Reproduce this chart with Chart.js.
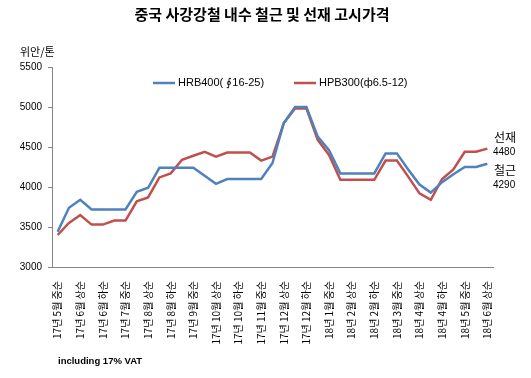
<!DOCTYPE html>
<html>
<head>
<meta charset="utf-8">
<script src="https://cdn.jsdelivr.net/npm/chart.js@4/dist/chart.umd.min.js"></script>
<style>
    body { margin: 0; background: #fff; }
</style>
</head>
<body>
<canvas id="myChart" width="531" height="378"></canvas>
<script>
    // 순별 (10일 단위) 카테고리
    const periods = [
        '17년 5월 중순', '17년 5월 하순', '17년 6월 상순', '17년 6월 중순', '17년 6월 하순',
        '17년 7월 상순', '17년 7월 중순', '17년 7월 하순', '17년 8월 상순', '17년 8월 중순',
        '17년 8월 하순', '17년 9월 상순', '17년 9월 중순', '17년 9월 하순', '17년 10월 상순',
        '17년 10월 중순', '17년 10월 하순', '17년 11월 상순', '17년 11월 중순', '17년 11월 하순',
        '17년 12월 상순', '17년 12월 중순', '17년 12월 하순', '18년 1월 상순', '18년 1월 중순',
        '18년 1월 하순', '18년 2월 상순', '18년 2월 중순', '18년 2월 하순', '18년 3월 상순',
        '18년 3월 중순', '18년 3월 하순', '18년 4월 상순', '18년 4월 중순', '18년 4월 하순',
        '18년 5월 상순', '18년 5월 중순', '18년 5월 하순', '18년 6월 상순'
    ];

    // 철근 HRB400
    const rebarHRB400 = [
        3440, 3740, 3840, 3720, 3720, 3720, 3720, 3940, 3990, 4240,
        4240, 4240, 4240, 4140, 4040, 4100, 4100, 4100, 4100, 4300,
        4800, 5000, 5000, 4630, 4460, 4170, 4170, 4170, 4170, 4420,
        4420, 4220, 4030, 3930, 4060, 4160, 4250, 4250, 4290
    ];

    // 선재 HPB300
    const wireHPB300 = [
        3400, 3550, 3650, 3530, 3530, 3580, 3580, 3820, 3870, 4120,
        4170, 4340, 4390, 4440, 4380, 4430, 4430, 4430, 4330, 4380,
        4800, 4980, 4980, 4590, 4400, 4090, 4090, 4090, 4090, 4330,
        4330, 4130, 3920, 3840, 4100, 4220, 4440, 4440, 4480
    ];

    const seriesNames = ['HRB400( ∮16-25)', 'HPB300(ф6.5-12)'];
    const seriesColors = ['#4F81BD', '#C0504D'];
    const yTicks = [3000, 3500, 4000, 4500, 5000, 5500];
//////////////////////////////////////////////////////////////////////////////////////////////////////////////////

    const KR = "'Noto Sans CJK KR', sans-serif";

    const textPlugin = {
        id: 'textPlugin',
        afterDraw(chart) {
            const c = chart.ctx;
            const y = chart.scales.y;
            const ds = chart.data.datasets;
            c.save();
            c.fillStyle = '#000';
            c.textBaseline = 'middle';

            // 제목
            c.textAlign = 'center';
            c.font = 'bold 15px ' + KR;
            c.fillText('중국 사강강철 내수 철근 및 선재 고시가격', 262, 14);

            // 단위
            c.textAlign = 'left';
            c.font = '11px ' + KR;
            c.fillText('위안/톤', 20, 52);

            // 범례
            const legendX = [153, 294];
            c.font = "11px 'Liberation Sans', sans-serif";
            ds.forEach(function(d, i) {
                c.strokeStyle = d.borderColor;
                c.lineWidth = 2.5;
                c.beginPath();
                c.moveTo(legendX[i], 83);
                c.lineTo(legendX[i] + 22, 83);
                c.stroke();
                c.fillText(d.label, legendX[i] + 25, 83);
            });

            // 마지막 값 표시
            const lastW = wireHPB300[wireHPB300.length - 1];
            const lastR = rebarHRB400[rebarHRB400.length - 1];
            const yw = y.getPixelForValue(lastW);
            const yr = y.getPixelForValue(lastR);
            c.font = '12px ' + KR;
            c.fillText('선재', 494, yw - 11);
            c.fillText('철근', 494, yr + 7);
            c.font = "10px 'Liberation Sans', sans-serif";
            c.fillText(String(lastW), 493, yw + 4);
            c.fillText(String(lastR), 493, yr + 21);

            // 주석
            c.font = "bold 9.5px 'Liberation Sans', sans-serif";
            c.fillText('including 17% VAT', 58, 361);
            c.restore();
        }
    };

    var ctx = document.getElementById('myChart').getContext('2d');
    var lineChart = new Chart(ctx, {
        type: 'line',
        data: {
            labels: periods,
            datasets: [
                {
                    label: seriesNames[0],
                    data: rebarHRB400,
                    borderColor: seriesColors[0],
                    backgroundColor: seriesColors[0],
                    borderWidth: 2.5,
                    pointRadius: 0,
                    fill: false,
                    tension: 0
                },
                {
                    label: seriesNames[1],
                    data: wireHPB300,
                    borderColor: seriesColors[1],
                    backgroundColor: seriesColors[1],
                    borderWidth: 2.5,
                    pointRadius: 0,
                    fill: false,
                    tension: 0
                }
            ]
        },
        options: {
            responsive: false,
            animation: false,
            devicePixelRatio: 1,
            layout: {
                padding: { left: 12, right: 38, top: 67, bottom: 0 }
            },
            plugins: {
                legend: { display: false },
                title: { display: false },
                tooltip: { enabled: false }
            },
            scales: {
                x: {
                    type: 'category',
                    offset: true,
                    grid: { display: false },
                    border: { display: true, color: '#868686', width: 1 },
                    ticks: {
                        autoSkip: false,
                        minRotation: 90,
                        maxRotation: 90,
                        padding: 6,
                        color: '#000',
                        font: { size: 10, family: KR },
                        callback: function(value, index) {
                            return index % 2 === 0 ? this.getLabelForValue(value) : '';
                        }
                    },
                    afterFit: function(s) { s.height = 111; }
                },
                y: {
                    min: yTicks[0],
                    max: yTicks[yTicks.length - 1],
                    grid: {
                        display: true,
                        drawOnChartArea: false,
                        drawTicks: true,
                        tickLength: 4,
                        color: '#868686'
                    },
                    border: { display: true, color: '#868686', width: 1 },
                    afterBuildTicks: function(s) {
                        s.ticks = yTicks.map(function(v) { return { value: v }; });
                    },
                    ticks: {
                        padding: 6,
                        color: '#000',
                        font: { size: 10, family: "'Liberation Sans', sans-serif" },
                        callback: function(value) { return String(value); }
                    },
                    afterFit: function(s) { s.width = 40; }
                }
            }
        },
        plugins: [textPlugin]
    });
</script>
</body>
</html>
